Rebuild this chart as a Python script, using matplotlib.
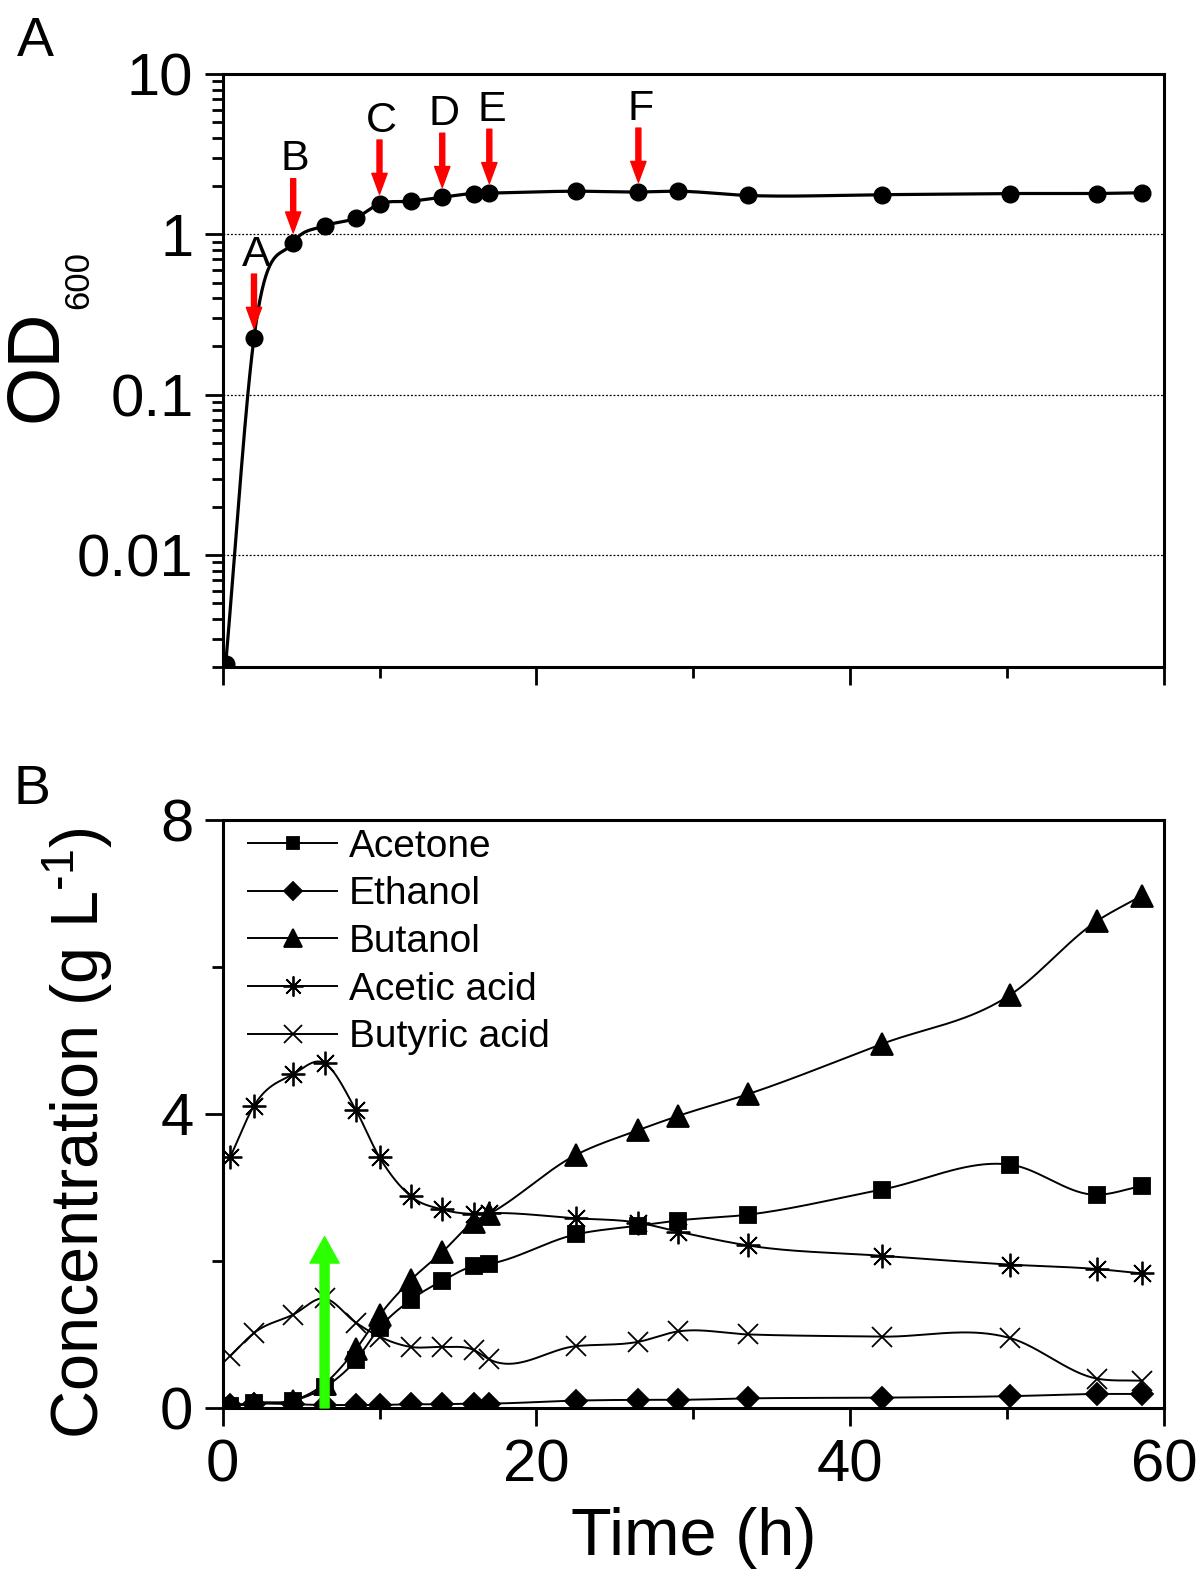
import numpy as np
import matplotlib
matplotlib.use('Agg')
from matplotlib import pyplot as plt
from matplotlib.lines import Line2D
from matplotlib.ticker import LogLocator, NullFormatter, MultipleLocator
from matplotlib import transforms

plt.rcParams['font.family'] = ['Liberation Sans', 'DejaVu Sans']
plt.rcParams['mathtext.fontset'] = 'custom'
plt.rcParams['mathtext.rm'] = 'Liberation Sans'
plt.rcParams['mathtext.it'] = 'Liberation Sans'

# growth curve (panel A)
od_time = [0.2, 2.0, 4.5, 6.5, 8.5, 10, 12, 14, 16, 17, 22.5, 26.5, 29, 33.5, 42, 50.2, 55.7, 58.6]
od600 = [0.0021, 0.226, 0.89, 1.13, 1.27, 1.55, 1.61, 1.71, 1.80, 1.81, 1.86, 1.84, 1.86, 1.75, 1.77, 1.80, 1.80, 1.82]
sample_labels = ['A', 'B', 'C', 'D', 'E', 'F']
sample_times = [2.0, 4.5, 10, 14, 17, 26.5]

# products (panel B)
time_h = [0.5, 2, 4.5, 6.5, 8.5, 10, 12, 14, 16, 17, 22.5, 26.5, 29, 33.5, 42, 50.2, 55.7, 58.6]
acetone = [0.02, 0.07, 0.10, 0.28, 0.65, 1.09, 1.47, 1.73, 1.93, 1.96, 2.36, 2.48, 2.55, 2.63, 2.97, 3.31, 2.90, 3.02]
ethanol = [0.04, 0.06, 0.05, 0.04, 0.04, 0.04, 0.05, 0.05, 0.06, 0.06, 0.10, 0.11, 0.11, 0.13, 0.14, 0.16, 0.19, 0.19]
butanol = [0.03, 0.06, 0.10, 0.33, 0.80, 1.26, 1.74, 2.12, 2.53, 2.64, 3.44, 3.78, 3.97, 4.27, 4.95, 5.62, 6.62, 6.97]
acetic = [3.42, 4.11, 4.54, 4.69, 4.05, 3.41, 2.88, 2.70, 2.64, 2.65, 2.58, 2.52, 2.40, 2.21, 2.07, 1.95, 1.89, 1.83]
butyric = [0.71, 1.02, 1.27, 1.49, 1.16, 0.97, 0.83, 0.83, 0.79, 0.66, 0.84, 0.90, 1.04, 1.00, 0.97, 0.95, 0.40, 0.37]
series_names = ['Acetone', 'Ethanol', 'Butanol', 'Acetic acid', 'Butyric acid']
induction_time = 6.5
induction_top = 2.33


def smooth(x, y, n=40):
    # cubic hermite through the points, slopes from np.gradient
    x = np.asarray(x, float)
    y = np.asarray(y, float)
    m = np.gradient(y, x)
    xs, ys = [], []
    for i in range(len(x) - 1):
        h = x[i + 1] - x[i]
        s = np.linspace(0, 1, n, endpoint=False)
        h00 = 2 * s**3 - 3 * s**2 + 1
        h10 = s**3 - 2 * s**2 + s
        h01 = -2 * s**3 + 3 * s**2
        h11 = s**3 - s**2
        xs.append(x[i] + s * h)
        ys.append(h00 * y[i] + h10 * h * m[i] + h01 * y[i + 1] + h11 * h * m[i + 1])
    xs.append([x[-1]])
    ys.append([y[-1]])
    return np.concatenate(xs), np.concatenate(ys)


fig = plt.figure(figsize=(12, 15.74), dpi=100)
ax1 = fig.add_axes([0.1855, 0.5762, 0.7845, 0.3767])
ax2 = fig.add_axes([0.1855, 0.1055, 0.7845, 0.3736])

for ax in (ax1, ax2):
    for sp in ax.spines.values():
        sp.set_linewidth(2.2)
    ax.set_xlim(0, 60)
    ax.xaxis.set_major_locator(MultipleLocator(20))
    ax.xaxis.set_minor_locator(MultipleLocator(10))
    ax.tick_params(axis='x', which='major', direction='out', length=13, width=2, top=False)
    ax.tick_params(axis='x', which='minor', direction='out', length=8, width=2, top=False)
    ax.tick_params(axis='y', which='major', direction='out', length=13, width=2)
    ax.tick_params(axis='y', which='minor', direction='out', length=8, width=2)
    ax.tick_params(labelsize=43)
    ax.tick_params(axis='x', pad=9)
    ax.tick_params(axis='y', pad=8)

# ---- panel A ----
sx, sy = smooth(od_time, np.log10(od600))
ax1.plot(sx, 10**sy, color='k', lw=2.3, zorder=3)
ax1.plot(od_time, od600, 'o', color='k', ms=12, zorder=4)
ax1.set_yscale('log')
ax1.set_ylim(0.002, 10)
ax1.set_yticks([0.01, 0.1, 1, 10])
ax1.set_yticklabels(['0.01', '0.1', '1', '10'])
ax1.yaxis.set_minor_locator(LogLocator(base=10, subs=np.arange(2, 10)))
ax1.yaxis.set_minor_formatter(NullFormatter())
ax1.tick_params(axis='x', labelbottom=False)
for lev in [0.01, 0.1, 1]:
    ax1.axhline(lev, color='k', lw=0.9, ls=(0, (1.5, 1.5)), zorder=1)

arrow_to = transforms.offset_copy(ax1.transData, fig=fig, x=0, y=7, units='points')
arrow_from = transforms.offset_copy(ax1.transData, fig=fig, x=0, y=46, units='points')
label_at = transforms.offset_copy(ax1.transData, fig=fig, x=1.5, y=60, units='points')
for lab, t in zip(sample_labels, sample_times):
    v = np.interp(t, od_time, od600)
    ax1.annotate('', xy=(t, v), xycoords=arrow_to, xytext=(t, v), textcoords=arrow_from,
                 arrowprops=dict(width=3.6, headwidth=11, headlength=15, color='#ff0000', shrink=0),
                 zorder=5)
    ax1.text(t, v, lab, transform=label_at, ha='center', va='center', fontsize=31, zorder=5)

# ---- panel B ----
markers = ['s', 'D', '^', (8, 2, 0), 'x']
sizes = [11, 11, 15.5, 17, 15]
data = [acetone, ethanol, butanol, acetic, butyric]
handles = []
for name, vals, mk, ms in zip(series_names, data, markers, sizes):
    cx, cy = smooth(time_h, vals)
    ax2.plot(cx, cy, color='k', lw=1.4, zorder=3)
    ax2.plot(time_h, vals, ls='none', marker=mk, ms=ms, color='k', mew=1.3, zorder=4)
    handles.append(Line2D([], [], color='k', lw=1.4, marker=mk, ms=ms * 0.85, mew=1.3, label=name))

ax2.set_ylim(0, 8)
ax2.yaxis.set_major_locator(MultipleLocator(4))
ax2.yaxis.set_minor_locator(MultipleLocator(2))
ax2.set_xlabel('Time (h)', fontsize=48, labelpad=10)

ax2.annotate('', xy=(induction_time, induction_top), xytext=(induction_time, 0.0),
             arrowprops=dict(width=6.5, headwidth=21, headlength=19, color='#2bff00', shrink=0),
             zorder=6)

ax2.legend(handles=handles, loc='upper left', bbox_to_anchor=(0.027, 0.985), frameon=False,
           fontsize=28, handlelength=2.3, handletextpad=0.3, labelspacing=0.30,
           borderpad=0, borderaxespad=0)

fig.text(36 / 1200, 1 - 366 / 1574, 'OD', rotation=90, fontsize=54, ha='center', va='center')
fig.text(79 / 1200, 1 - 280 / 1574, '600', rotation=90, fontsize=25, ha='center', va='center')
fig.text(78 / 1200, 1 - 1133 / 1574, r'Concentration (g L$^{\text{-1}}$)', rotation=90,
         fontsize=48, ha='center', va='center')
fig.text(35 / 1200, 1 - 42 / 1574, 'A', fontsize=40, ha='center', va='center')
fig.text(32 / 1200, 1 - 790 / 1574, 'B', fontsize=40, ha='center', va='center')

fig.savefig('out.png', dpi=100)
